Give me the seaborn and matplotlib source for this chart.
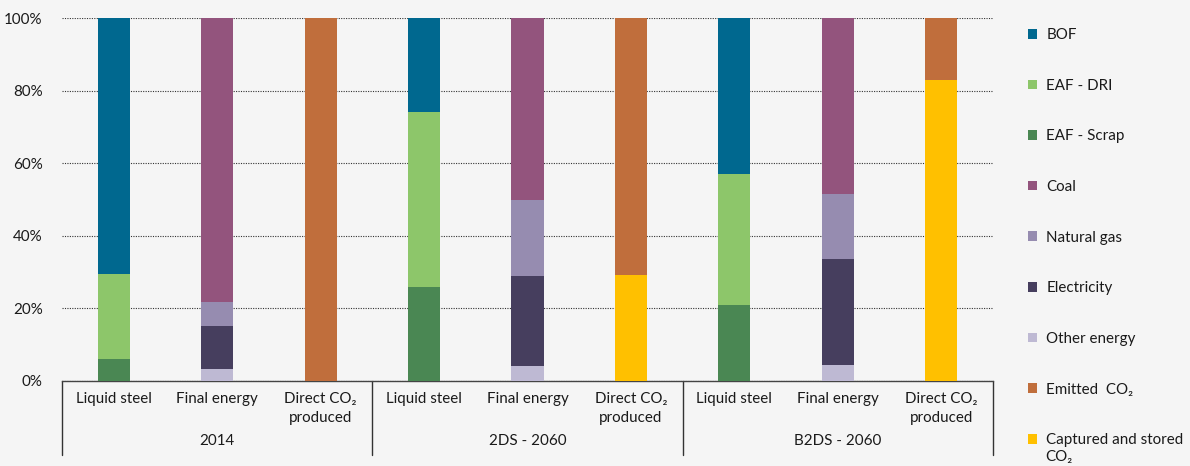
import numpy as np
import pandas as pd
import matplotlib
matplotlib.use("Agg")
import matplotlib.pyplot as plt
import matplotlib.transforms as mtransforms
from matplotlib.patches import Patch
import seaborn as sns

# ---------------- data ----------------
groups = ["2014", "2DS - 2060", "B2DS - 2060"]
bar_labels = ["Liquid steel", "Final energy", "Direct CO₂\nproduced"]

# Liquid steel (per scenario)
eaf_scrap = [6.0, 25.8, 20.9]
eaf_dri = [23.6, 48.3, 36.0]
bof = [70.4, 25.9, 43.1]
# Final energy
other_energy = [3.2, 4.0, 4.3]
electricity = [12.0, 24.8, 29.4]
natural_gas = [6.7, 21.2, 17.7]
coal = [78.1, 50.0, 48.6]
# Direct CO2
captured = [0.0, 29.2, 82.8]
emitted = [100.0, 70.8, 17.2]

legend_labels = ["BOF", "EAF - DRI", "EAF - Scrap", "Coal", "Natural gas",
                 "Electricity", "Other energy", "Emitted  CO₂",
                 "Captured and stored"]
legend_extra = "CO₂"
colors = {"BOF": "#00688F", "EAF - DRI": "#8DC66A", "EAF - Scrap": "#4A8753",
          "Coal": "#93547D", "Natural gas": "#968CB0", "Electricity": "#463E5E",
          "Other energy": "#BEB9D3", "Emitted  CO₂": "#C06E3C",
          "Captured and stored": "#FFC000"}

# stacking order bottom -> top per bar type
stacks = {
    bar_labels[0]: [("EAF - Scrap", eaf_scrap), ("EAF - DRI", eaf_dri), ("BOF", bof)],
    bar_labels[1]: [("Other energy", other_energy), ("Electricity", electricity),
                    ("Natural gas", natural_gas), ("Coal", coal)],
    bar_labels[2]: [("Captured and stored", captured), ("Emitted  CO₂", emitted)],
}

rows = []
slots = []
for gi, g in enumerate(groups):
    for b in bar_labels:
        slot = f"{g}|{b}"
        slots.append(slot)
        cum = 0.0
        for level, (comp, vals) in enumerate(stacks[b]):
            cum += vals[gi]
            rows.append(dict(slot=slot, comp=comp, top=cum, level=level))
df = pd.DataFrame(rows)

# ---------------- plot ----------------
bg = "#F5F5F5"
sns.set_theme(style="white")
plt.rcParams["font.family"] = ["Lato", "DejaVu Sans"]
FS = 10.9

fig = plt.figure(figsize=(11.9, 4.66), dpi=100, facecolor=bg)
ax = fig.add_axes([62 / 1190, 1 - 381 / 466, 931 / 1190, 363 / 466])
ax.set_facecolor(bg)

# draw from the highest stacking level down so lower segments overlay
for level in sorted(df["level"].unique(), reverse=True):
    for comp in df.loc[df["level"] == level, "comp"].unique():
        sub = df[(df["level"] == level) & (df["comp"] == comp)]
        sns.barplot(data=sub, x="slot", y="top", order=slots, color=colors[comp],
                    width=0.31, saturation=1, linewidth=0, ax=ax, zorder=3)

ax.set_ylim(0, 100)
ax.set_xlim(-0.5, len(slots) - 0.5)
ax.set_yticks([0, 20, 40, 60, 80, 100])
ax.set_yticklabels(["0%", "20%", "40%", "60%", "80%", "100%"])
ax.set_xticks(range(len(slots)))
ax.set_xticklabels([s.split("|")[1] for s in slots], linespacing=1.45)
ax.tick_params(axis="x", length=0, pad=8, labelsize=FS, colors="#1a1a1a")
ax.tick_params(axis="y", length=0, pad=14, labelsize=FS, colors="#1a1a1a")
ax.set_xlabel("")
ax.set_ylabel("")

ax.yaxis.grid(True, linestyle=(0, (1, 1.2)), color="#333333", linewidth=0.8, zorder=0)
ax.xaxis.grid(False)
for s in ["top", "right", "left"]:
    ax.spines[s].set_visible(False)
ax.spines["bottom"].set_color("#444444")
ax.spines["bottom"].set_linewidth(1.0)
ax.set_axisbelow(True)

trans = mtransforms.blended_transform_factory(ax.transData, ax.transAxes)
for xsep in [-0.5, 2.5, 5.5, 8.5]:
    ax.plot([xsep, xsep], [0, -74 / 363], transform=trans, color="#333333",
            linewidth=1.0, clip_on=False)
for gi, g in enumerate(groups):
    ax.text(gi * 3 + 1, -(441 - 381) / 363, g, transform=trans, ha="center",
            va="center", fontsize=FS, color="#1a1a1a")

handles = [Patch(facecolor=colors[l], edgecolor="none") for l in legend_labels]
fig.legend(handles, legend_labels, loc="upper left",
           bbox_to_anchor=(1022 / 1190, 1 - 22 / 466), frameon=False,
           fontsize=FS, handlelength=0.6, handleheight=0.6, handletextpad=0.6,
           labelspacing=2.42, borderaxespad=0, labelcolor="#1a1a1a")
fig.text(1045 / 1190, 1 - 457 / 466, legend_extra, ha="left", va="center",
         fontsize=FS, color="#1a1a1a")

fig.savefig("out.png", dpi=100, facecolor=bg)
